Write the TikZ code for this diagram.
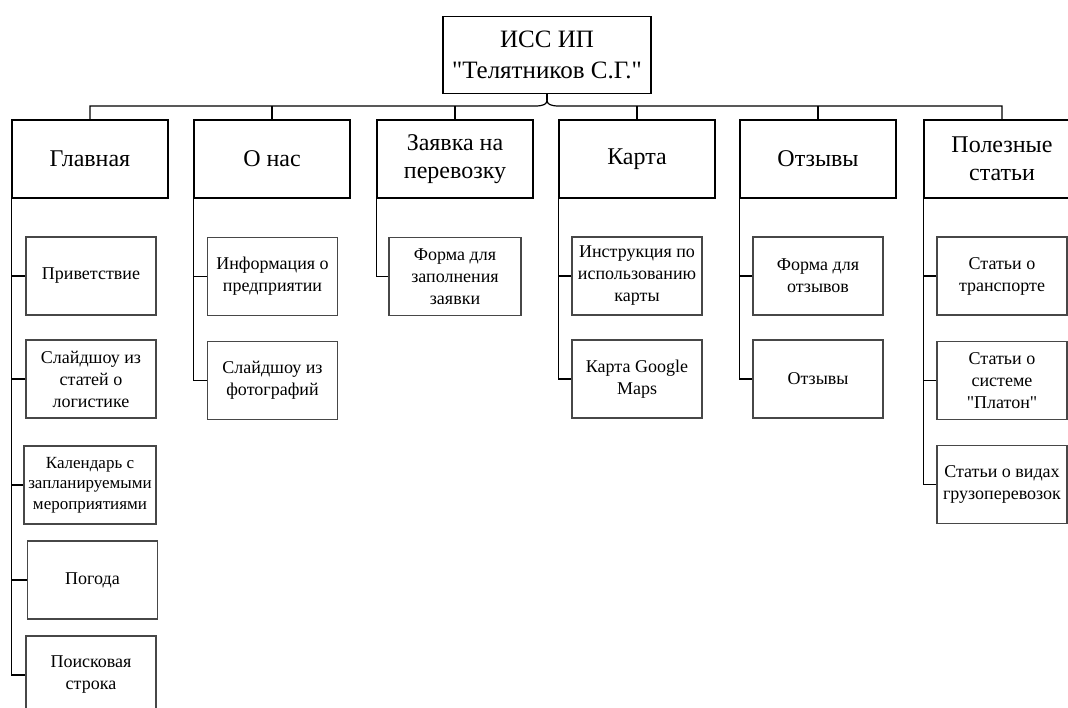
\documentclass[tikz,border=0pt]{standalone}
\usepackage{fontspec}
% family without the TeX ligature mapping, so that " stays a straight quote
\newfontfamily\boxfont{Liberation Serif}
\begin{document}
\begin{tikzpicture}[x=1pt,y=-1pt,
  rootbox/.style={draw=black,line width=1.2pt,minimum width=208pt,minimum height=77pt,
    align=center,font=\boxfont\fontsize{25}{31}\selectfont,inner sep=2pt},
  secbox/.style={draw=black,line width=1.2pt,minimum width=156pt,minimum height=78pt,
    align=center,font=\boxfont\fontsize{24}{28}\selectfont,inner sep=2pt},
  itembox/.style={draw=black!72,line width=1.8pt,minimum width=130pt,minimum height=78pt,
    align=center,font=\boxfont\fontsize{18}{22}\selectfont,inner sep=1pt},
  link/.style={draw=black,line width=1.2pt}]
\useasboundingbox (0,0) rectangle (1068,708);
\clip (0,0) rectangle (1068,708);

% root
\node[rootbox] (root) at (547,55) {ИСС ИП\\"Телятников С.Г."};

% sections
\node[secbox] (s1) at (90,159)   {Главная};
\node[secbox] (s2) at (272,159)  {О нас};
\node[secbox] (s3) at (455,159)  {Заявка на\\перевозку};
\node[secbox] (s4) at (637,159)  {Карта};
\node[secbox] (s5) at (818,159)  {Отзывы};
\node[secbox] (s6) at (1002,159) {Полезные\\статьи};

% items: Главная
\node[itembox] (a1) at (91,276)   {Приветствие};
\node[itembox] (a2) at (91,379)   {Слайдшоу из\\статей о\\логистике};
\node[itembox,minimum width=132pt,inner sep=0pt,font=\boxfont\fontsize{17}{20.5}\selectfont] (a3) at (90,485)
  {Календарь с\\запланируемыми\\мероприятиями};
\node[itembox] (a4) at (92.5,580) {Погода};
\node[itembox] (a5) at (91,675)   {Поисковая\\строка};

% items: О нас
\node[itembox] (b1) at (272.5,276.5) {Информация о\\предприятии};
\node[itembox] (b2) at (272.5,380.5) {Слайдшоу из\\фотографий};

% items: Заявка
\node[itembox,minimum width=132pt] (c1) at (455,276.5) {Форма для\\заполнения\\заявки};

% items: Карта
\node[itembox] (d1) at (637,276) {Инструкция по\\использованию\\карты};
\node[itembox] (d2) at (637,379) {Карта Google\\Maps};

% items: Отзывы
\node[itembox] (e1) at (818,276) {Форма для\\отзывов};
\node[itembox] (e2) at (818,379) {Отзывы};

% items: Полезные статьи
\node[itembox] (f1) at (1002,276)   {Статьи о\\транспорте};
\node[itembox] (f2) at (1002,380.5) {Статьи о\\системе\\"Платон"};
\node[itembox] (f3) at (1002,484.5) {Статьи о видах\\грузоперевозок};

% brace under the root
\coordinate (cusp) at (547,100);
\coordinate (bl) at (535,106);
\coordinate (br) at (559,106);
\draw[link] (root.south) -- (cusp);
\draw[link] (s1.north) |- (bl) .. controls (544,106) and (547,104) .. (cusp);
\draw[link] (s6.north) |- (br) .. controls (550,106) and (547,104) .. (cusp);
\foreach \s in {s2,s3,s4,s5}
  \draw[link] (\s.north) -- (\s.north |- bl);

% section-to-item connectors
\draw[link] (s1.south west) |- (a5.west);
\foreach \c in {a1,a2,a3,a4}
  \draw[link] (\c.west) -- (\c.west -| s1.south west);
\draw[link] (s2.south west) |- (b2.west);
\draw[link] (b1.west) -- (b1.west -| s2.south west);
\draw[link] (s3.south west) |- (c1.west);
\draw[link] (s4.south west) |- (d2.west);
\draw[link] (d1.west) -- (d1.west -| s4.south west);
\draw[link] (s5.south west) |- (e2.west);
\draw[link] (e1.west) -- (e1.west -| s5.south west);
\draw[link] (s6.south west) |- (f3.west);
\foreach \c in {f1,f2}
  \draw[link] (\c.west) -- (\c.west -| s6.south west);
\end{tikzpicture}
\end{document}
